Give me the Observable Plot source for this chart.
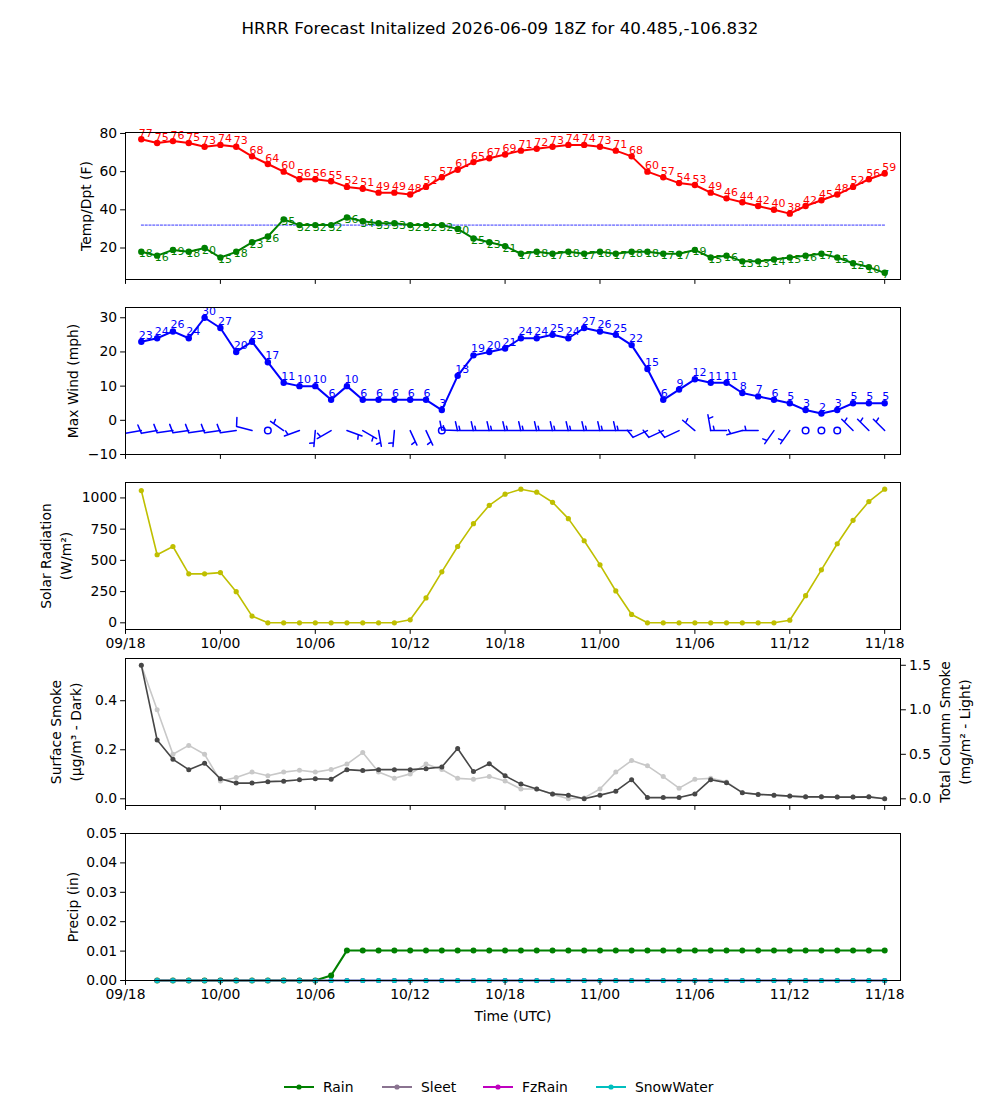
<!DOCTYPE html>
<html>
<head>
<meta charset="utf-8">
<script src="https://cdn.jsdelivr.net/npm/d3@7"></script>
<script src="https://cdn.jsdelivr.net/npm/@observablehq/plot@0.6"></script>
<style>
  body { margin: 0; background: #fff; font-family: "DejaVu Sans", sans-serif; }
  #fig { position: relative; width: 1000px; height: 1100px; background: #fff; overflow: hidden; }
  #title { position: absolute; top: 18px; left: 0; width: 1000px; text-align: center; font-size: 16.7px; color: #000; }
  .lg-item { position: absolute; top: 1077px; height: 20px; display: flex; align-items: center; font-size: 13.9px; color: #000; }
  .lg-item svg { margin-right: 9px; }
</style>
</head>
<body>
<div id="fig">
  <div id="title">HRRR Forecast Initalized 2026-06-09 18Z for 40.485,-106.832</div>
</div>
<script>
// ---- forecast data (hourly, UTC) ----
const initTime = Date.UTC(2026, 5, 9, 18);
const forecastHour = [1,2,3,4,5,6,7,8,9,10,11,12,13,14,15,16,17,18,19,20,21,22,23,24,
                      25,26,27,28,29,30,31,32,33,34,35,36,37,38,39,40,41,42,43,44,45,46,47,48];
const tempF = [77,75,76,75,73,74,73,68,64,60,56,56,55,52,51,49,49,48,52,57,61,65,67,69,
               71,72,73,74,74,73,71,68,60,57,54,53,49,46,44,42,40,38,42,45,48,52,56,59];
const dewF = [18,16,19,18,20,15,18,23,26,35,32,32,32,36,34,33,33,32,32,32,30,25,23,21,
              17,18,17,18,17,18,17,18,18,17,17,19,15,16,13,13,14,15,16,17,15,12,10,7];
const maxWindMph = [23,24,26,24,30,27,20,23,17,11,10,10,6,10,6,6,6,6,6,3,13,19,20,21,
                    24,24,25,24,27,26,25,22,15,6,9,12,11,11,8,7,6,5,3,2,3,5,5,5];
// wind barbs: direction the wind blows from (deg) and sustained speed (kt); 0 kt = calm
const barbDir = [260,260,262,262,262,262,262,285,0,305,250,185,240,110,120,170,185,155,155,0,272,270,270,270,
                 270,270,270,270,270,270,270,270,245,245,245,310,350,270,255,270,215,215,0,0,0,315,315,315];
const barbKt = [10,10,10,10,10,10,10,10,0,5,5,5,5,5,5,5,5,5,5,0,15,15,15,15,
                15,15,15,15,15,15,15,15,10,10,10,5,5,5,5,5,5,5,0,0,0,5,5,5];
const solarWm2 = [1059,545,611,392,392,402,249,54,0,0,0,0,0,0,0,0,0,24,199,408,611,794,941,1030,
                  1070,1046,965,834,657,464,255,67,0,0,0,0,0,0,0,0,0,21,217,424,633,821,971,1070];
const smokeSfc = [0.545,0.240,0.161,0.119,0.145,0.082,0.064,0.064,0.070,0.072,0.078,0.082,0.080,0.119,0.115,0.119,
                  0.119,0.119,0.123,0.130,0.205,0.111,0.143,0.094,0.060,0.040,0.020,0.015,0.000,0.015,0.031,0.078,
                  0.005,0.005,0.005,0.020,0.078,0.066,0.025,0.018,0.015,0.011,0.008,0.008,0.007,0.007,0.008,0.000];
const smokeCol = [1.50,1.00,0.50,0.60,0.50,0.20,0.24,0.30,0.26,0.30,0.32,0.30,0.33,0.39,0.52,0.30,
                  0.23,0.28,0.39,0.33,0.23,0.22,0.25,0.20,0.11,0.11,0.05,0.00,0.01,0.11,0.30,0.43,
                  0.37,0.25,0.12,0.22,0.23,0.19,0.07,0.05,0.04,0.03,0.02,0.02,0.02,0.02,0.02,0.00];
// accumulated precipitation (in); no value at the first hour
const rainIn = [null,0,0,0,0,0,0,0,0,0,0,0,0.0017,0.0102,0.0102,0.0102,0.0102,0.0102,0.0102,0.0102,0.0102,0.0102,0.0102,0.0102,
                0.0102,0.0102,0.0102,0.0102,0.0102,0.0102,0.0102,0.0102,0.0102,0.0102,0.0102,0.0102,0.0102,0.0102,0.0102,0.0102,0.0102,0.0102,0.0102,0.0102,0.0102,0.0102,0.0102,0.0102];
const sleetIn = [null,0,0,0,0,0,0,0,0,0,0,0,0,0,0,0,0,0,0,0,0,0,0,0,0,0,0,0,0,0,0,0,0,0,0,0,0,0,0,0,0,0,0,0,0,0,0,0];
const fzRainIn = [null,0,0,0,0,0,0,0,0,0,0,0,0,0,0,0,0,0,0,0,0,0,0,0,0,0,0,0,0,0,0,0,0,0,0,0,0,0,0,0,0,0,0,0,0,0,0,0];
const snowWaterIn = [null,0,0,0,0,0,0,0,0,0,0,0,0,0,0,0,0,0,0,0,0,0,0,0,0,0,0,0,0,0,0,0,0,0,0,0,0,0,0,0,0,0,0,0,0,0,0,0];

// axis ticks
const xTickHours = [0, 6, 12, 18, 24, 30, 36, 42, 48];
const tempTicks = [20, 40, 60, 80];
const windTicks = [-10, 0, 10, 20, 30];
const solarTicks = [0, 250, 500, 750, 1000];
const smokeSfcTicks = [0, 0.2, 0.4];
const smokeColTicks = [0, 0.5, 1.0, 1.5];
const precipTicks = [0, 0.01, 0.02, 0.03, 0.04, 0.05];
const freezingF = 32;
const barbLevel = -3;

// legend entries for the precipitation panel
const precipSeries = [
  {key: "rain", name: "Rain", color: "#008000"},
  {key: "sleet", name: "Sleet", color: "#8a7390"},
  {key: "fzrain", name: "FzRain", color: "#bf00bf"},
  {key: "snow", name: "SnowWater", color: "#00bfbf"}
];

const hourMs = 3600e3;
const rows = forecastHour.map((h, i) => ({
  time: new Date(initTime + h * hourMs),
  temp: tempF[i], dew: dewF[i], wind: maxWindMph[i],
  dir: barbDir[i], kt: barbKt[i],
  solar: solarWm2[i], sfc: smokeSfc[i], col: smokeCol[i],
  rain: rainIn[i], sleet: sleetIn[i], fzrain: fzRainIn[i], snow: snowWaterIn[i]
}));
const xDomain = [new Date(initTime), new Date(initTime + 49 * hourMs)];
const xTicks = xTickHours.map(h => new Date(initTime + h * hourMs));
const fmtTime = d3.utcFormat("%d/%H");

// ---- layout ----
const fig = document.getElementById("fig");
const W = 1000, ML = 125, MR = 100, MT = 10, MB = 50, FH = 147;
const panelTop = [132, 307, 482, 658, 833];
const FONT = "DejaVu Sans, sans-serif";

function xAxis(labels) {
  return Plot.axisX({ticks: xTicks, tickFormat: labels ? fmtTime : () => "", tickSize: 4.9, tickPadding: 3.5, label: null});
}
function yAxis(ticks, fmt, anchor = "left") {
  return Plot.axisY({ticks, tickFormat: fmt, tickSize: 4.9, tickPadding: 3.5, label: null, anchor});
}
function yTitle(text, offset, anchor = "left") {
  return Plot.text([text], {text: d => d, frameAnchor: anchor, dx: offset, rotate: -90,
    textAnchor: "middle", lineAnchor: "middle", lineHeight: 1.42, fontSize: 13.9, fill: "black"});
}
function panel(k, yOpts, marks) {
  const svg = Plot.plot({
    width: W, height: FH + MT + MB,
    marginLeft: ML, marginRight: MR, marginTop: MT, marginBottom: MB,
    style: {fontFamily: FONT, fontSize: "13.9px", background: "transparent", color: "black", overflow: "visible"},
    x: {type: "utc", domain: xDomain, axis: null},
    y: {...yOpts, axis: null},
    marks
  });
  svg.style.position = "absolute";
  svg.style.left = "0px";
  svg.style.top = (panelTop[k] - MT) + "px";
  fig.append(svg);
  return svg;
}

// wind barb glyph: shaft points toward the source direction, barbs at the far end
function barbShape(kt) {
  const full = Math.floor(kt / 10), half = (kt % 10) >= 5 ? 1 : 0;
  return {
    draw(ctx, l) {
      const h = 0.55 * l, w = 0.25 * l, sp = 0.16 * l;
      ctx.moveTo(0, 0); ctx.lineTo(0, -l);
      let off = l;
      for (let b = 0; b < full; ++b) {
        ctx.moveTo(0, -off); ctx.lineTo(h, -off - w / 2);
        off -= sp;
      }
      if (half) {
        if (off === l) off -= 1.5 * sp;
        ctx.moveTo(0, -off); ctx.lineTo(h / 2, -off - w / 4);
      }
    }
  };
}

const labelFont = 11;

// 1) temperature and dew point
panel(0, {domain: [3.5, 80.5]}, [
  Plot.line(rows, {x: "time", y: () => freezingF, stroke: "blue", strokeWidth: 0.8, strokeDasharray: "2.2,1.6"}),
  Plot.line(rows, {x: "time", y: "temp", stroke: "red", strokeWidth: 2}),
  Plot.dot(rows, {x: "time", y: "temp", fill: "red", r: 3.2}),
  Plot.text(rows, {x: "time", y: "temp", text: d => d.temp, fill: "red", fontSize: labelFont, textAnchor: "start", lineAnchor: "middle", dx: -2.5, dy: -6}),
  Plot.line(rows, {x: "time", y: "dew", stroke: "green", strokeWidth: 2}),
  Plot.dot(rows, {x: "time", y: "dew", fill: "green", r: 3.2}),
  Plot.text(rows, {x: "time", y: "dew", text: d => d.dew, fill: "green", fontSize: labelFont, textAnchor: "start", lineAnchor: "middle", dx: -2.5, dy: 2}),
  Plot.frame({stroke: "black"}),
  xAxis(false),
  yAxis(tempTicks),
  yTitle("Temp/Dpt (F)", -41)
]);

// 2) max wind with barbs
const barbRows = rows.filter(d => d.kt >= 5);
const calmRows = rows.filter(d => d.kt < 5);
const barbSpeeds = [...new Set(barbRows.map(d => d.kt))];
panel(1, {domain: [-10, 33]}, [
  Plot.line(rows, {x: "time", y: "wind", stroke: "blue", strokeWidth: 2}),
  Plot.dot(rows, {x: "time", y: "wind", fill: "blue", r: 3.2}),
  Plot.text(rows, {x: "time", y: "wind", text: d => d.wind, fill: "blue", fontSize: labelFont, textAnchor: "start", lineAnchor: "middle", dx: -2.5, dy: -6.5}),
  ...barbSpeeds.map(s => Plot.vector(barbRows.filter(d => d.kt === s), {
    x: "time", y: () => barbLevel, rotate: "dir", length: 16, anchor: "start",
    shape: barbShape(s), stroke: "blue", strokeWidth: 1.5, fill: "none", clip: true
  })),
  Plot.dot(calmRows, {x: "time", y: () => barbLevel, r: 3.3, stroke: "blue", strokeWidth: 1.5, fill: "none"}),
  Plot.frame({stroke: "black"}),
  xAxis(false),
  yAxis(windTicks),
  yTitle("Max Wind (mph)", -54)
]);

// 3) solar radiation
panel(2, {domain: [-53.5, 1123.5]}, [
  Plot.line(rows, {x: "time", y: "solar", stroke: "#bfbf00", strokeWidth: 1.6}),
  Plot.dot(rows, {x: "time", y: "solar", fill: "#bfbf00", r: 2.6}),
  Plot.frame({stroke: "black"}),
  xAxis(true),
  yAxis(solarTicks, d3.format("d")),
  yTitle("Solar Radiation\n(W/m²)", -71)
]);

// 4) smoke: column total (light, right axis) beneath surface (dark, left axis)
panel(3, {domain: [-0.0751, 1.5761]}, [
  Plot.line(rows, {x: "time", y: "col", stroke: "#c8c8c8", strokeWidth: 1.6}),
  Plot.dot(rows, {x: "time", y: "col", fill: "#c8c8c8", r: 2.5}),
  yAxis(smokeColTicks, d3.format(".1f"), "right"),
  yTitle("Total Column Smoke\n(mg/m² - Light)", 53, "right")
]);
panel(3, {domain: [-0.0273, 0.5723]}, [
  Plot.line(rows, {x: "time", y: "sfc", stroke: "#474747", strokeWidth: 1.6}),
  Plot.dot(rows, {x: "time", y: "sfc", fill: "#474747", r: 2.5}),
  Plot.frame({stroke: "black"}),
  xAxis(false),
  yAxis(smokeSfcTicks, d3.format(".1f")),
  yTitle("Surface Smoke\n(μg/m³ - Dark)", -61)
]);

// 5) accumulated precipitation
const precipRows = rows.filter(d => d.rain != null);
panel(4, {domain: [0, 0.05]}, [
  ...precipSeries.flatMap(s => [
    Plot.line(precipRows, {x: "time", y: s.key, stroke: s.color, strokeWidth: s.key === "rain" ? 2.2 : 1.6}),
    Plot.dot(precipRows, {x: "time", y: s.key, fill: s.color, r: s.key === "rain" ? 3 : 2.6})
  ]),
  Plot.frame({stroke: "black"}),
  xAxis(true),
  yAxis(precipTicks, d3.format(".2f")),
  yTitle("Precip (in)", -54),
  Plot.text(["Time (UTC)"], {text: d => d, frameAnchor: "bottom", dy: 36, lineAnchor: "middle", fontSize: 13.9, fill: "black"})
]);

// legend below the figure
const legendX = [284, 382, 483, 596];
precipSeries.forEach((s, i) => {
  const item = document.createElement("div");
  item.className = "lg-item";
  item.style.left = legendX[i] + "px";
  item.innerHTML = `<svg width="30" height="10"><line x1="0" y1="5" x2="30" y2="5" stroke="${s.color}" stroke-width="2"/><circle cx="15" cy="5" r="2.6" fill="${s.color}"/></svg><span>${s.name}</span>`;
  fig.append(item);
});
</script>
</body>
</html>
